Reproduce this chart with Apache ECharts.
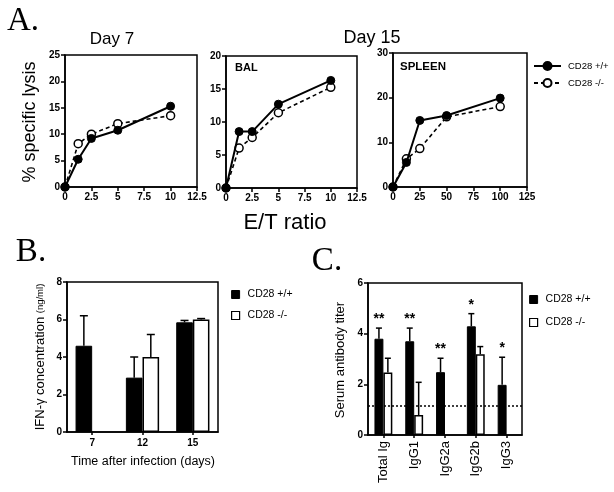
<!DOCTYPE html>
<html><head><meta charset="utf-8">
<script src="https://cdn.jsdelivr.net/npm/echarts@6/dist/echarts.min.js"></script>
<style>html,body{margin:0;padding:0;background:#fff}#c{width:614px;height:492px}</style>
</head><body><div id="c"></div>
<script>
// ---- Data ----
const etX = [0, 1.25, 2.5, 5, 10];
const day7Wt = [0, 5.25, 9.2, 10.75, 15.3];
const day7Ko = [0, 8.2, 10.0, 12.0, 13.5];
const balWt = [0, 8.55, 8.55, 12.7, 16.3];
const balKo = [0, 6.05, 7.65, 11.4, 15.25];
const spleenX = [0, 12.5, 25, 50, 100];
const spleenWt = [0, 5.5, 14.9, 16.0, 19.9];
const spleenKo = [0, 6.3, 8.6, 15.7, 18.0];

const bDays = ['7', '12', '15'];
const bWt = [4.6, 2.9, 5.85];
const bWtErr = [1.6, 1.1, 0.1];
const bKo = ['-', 4.0, 6.0];
const bKoErr = [0, 1.2, 0.05];

const cIso = ['Total Ig', 'IgG1', 'IgG2a', 'IgG2b', 'IgG3'];
const cWt = [3.8, 3.7, 2.48, 4.29, 1.98];
const cWtErr = [0.42, 0.52, 0.55, 0.5, 1.09];
const cKo = [2.47, 0.79, '-', 3.19, '-'];
const cKoErr = [0.56, 1.29, 0, 0.3, 0];
const cStars = ['**', '**', '**', '*', '*'];
const cDetection = 1.15;

const lineTicks = { day7: [0, 25, 5], bal: [0, 20, 5], spleen: [0, 30, 10] };

// ---- Helpers ----
const FF = '"Liberation Sans", Arial, Helvetica, sans-serif';
const SERIF = '"Liberation Serif", "Times New Roman", serif';
const BLK = '#000';

function axisBase(gi, extra) {
  return Object.assign({
    gridIndex: gi,
    axisLine: { show: true, onZero: false, lineStyle: { color: BLK, width: 1.5 } },
    axisTick: { show: true, length: 4, lineStyle: { color: BLK, width: 1.5 } },
    axisLabel: { color: BLK, fontSize: 10, fontWeight: 'bold', fontFamily: FF, margin: 5 },
    splitLine: { show: false }
  }, extra);
}
function pairs(xs, ys) { return xs.map((x, i) => [x, ys[i]]); }

function lineSeries(name, gi, xs, ys, ko) {
  return {
    type: 'line', name: name, xAxisIndex: gi, yAxisIndex: gi,
    data: pairs(xs, ys), clip: false, z: ko ? 3 : 4,
    symbol: 'circle', symbolSize: 8, showSymbol: true,
    lineStyle: { color: BLK, width: ko ? 1.6 : 2, type: ko ? [4, 3] : 'solid' },
    itemStyle: ko ? { color: '#fff', borderColor: BLK, borderWidth: 1.5 } : { color: BLK, borderColor: BLK, borderWidth: 1 },
    emphasis: { disabled: true }
  };
}

function errSeries(name, gi, vals, errs, side, gap, capW, stars) {
  const data = [];
  vals.forEach((v, i) => { if (v !== '-' && errs[i] > 0) data.push([i, v, v + errs[i]]); });
  return {
    type: 'custom', name: name, xAxisIndex: gi, yAxisIndex: gi, z: 5, clip: false,
    silent: true,
    data: data,
    encode: { x: 0, y: [1, 2] },
    renderItem: function (params, api) {
      const i = api.value(0), lo = api.value(1), hi = api.value(2);
      const band = api.size([1, 0])[0];
      const bw = band * (1 - gap) / 2;
      const off = side === 0 ? -bw / 2 : bw / 2;
      const p0 = api.coord([i, lo]), p1 = api.coord([i, hi]);
      const x = p0[0] + off;
      const st = { stroke: BLK, lineWidth: 1.5 };
      const children = [
        { type: 'line', shape: { x1: x, y1: p0[1], x2: x, y2: p1[1] }, style: st },
        { type: 'line', shape: { x1: x - capW / 2, y1: p1[1], x2: x + capW / 2, y2: p1[1] }, style: st }
      ];
      if (stars) {
        children.push({ type: 'text', x: x, y: p1[1] - 2,
          style: { text: stars[i], fill: BLK, fontSize: 14, fontWeight: 'bold', fontFamily: FF, align: 'center', verticalAlign: 'bottom' } });
      }
      return { type: 'group', children: children };
    }
  };
}

const chart = echarts.init(document.getElementById('c'), null, { renderer: 'canvas' });
const frame = { show: true, borderColor: BLK, borderWidth: 1.5, backgroundColor: 'transparent' };
const bGap = 0.34, cGap = 0.42;

const option = {
  backgroundColor: '#fff',
  animation: false,
  textStyle: { fontFamily: FF },
  grid: [
    Object.assign({ left: 65, top: 55, width: 132, height: 132 }, frame),
    Object.assign({ left: 226, top: 56, width: 131, height: 132 }, frame),
    Object.assign({ left: 393, top: 53, width: 134, height: 134 }, frame),
    Object.assign({ left: 67, top: 282, width: 151, height: 150 }, frame),
    Object.assign({ left: 368, top: 283, width: 154, height: 152 }, frame)
  ],
  xAxis: [
    axisBase(0, { type: 'value', min: 0, max: 12.5, interval: 2.5 }),
    axisBase(1, { type: 'value', min: 0, max: 12.5, interval: 2.5 }),
    axisBase(2, { type: 'value', min: 0, max: 125, interval: 25 }),
    axisBase(3, { type: 'category', data: bDays, axisTick: { show: true, alignWithLabel: true, length: 3, lineStyle: { color: BLK, width: 1.5 } }, axisLabel: { color: BLK, fontSize: 10, fontWeight: 'bold', fontFamily: FF, margin: 6 } }),
    axisBase(4, { type: 'category', data: cIso, axisTick: { show: true, alignWithLabel: true, length: 3, lineStyle: { color: BLK, width: 1.5 } }, axisLabel: { color: BLK, fontSize: 13, fontFamily: FF, rotate: 90, margin: 6 } })
  ],
  yAxis: [
    axisBase(0, { type: 'value', min: lineTicks.day7[0], max: lineTicks.day7[1], interval: lineTicks.day7[2] }),
    axisBase(1, { type: 'value', min: lineTicks.bal[0], max: lineTicks.bal[1], interval: lineTicks.bal[2] }),
    axisBase(2, { type: 'value', min: lineTicks.spleen[0], max: lineTicks.spleen[1], interval: lineTicks.spleen[2] }),
    axisBase(3, { type: 'value', min: 0, max: 8, interval: 2 }),
    axisBase(4, { type: 'value', min: 0, max: 6, interval: 2 })
  ],
  legend: [
    { orient: 'vertical', left: 528, top: 56, itemWidth: 27, itemHeight: 10, itemGap: 7,
      textStyle: { fontSize: 9.5, color: BLK, fontFamily: FF, padding: [0, 0, 0, 2] },
      data: ['CD28 +/+', 'CD28 -/-'], selectedMode: false },
    { orient: 'vertical', left: 226, top: 284, itemWidth: 8, itemHeight: 8, itemGap: 10,
      textStyle: { fontSize: 10.5, color: BLK, fontFamily: FF, padding: [0, 0, 0, 3] }, selectedMode: false,
      data: [{ name: 'CD28 +/+', icon: 'rect', itemStyle: { color: BLK, borderColor: BLK, borderWidth: 1 }, lineStyle: { width: 0 } },
             { name: 'CD28 -/-', icon: 'rect', itemStyle: { color: '#fff', borderColor: BLK, borderWidth: 1.2 }, lineStyle: { width: 0 } }] },
    { orient: 'vertical', left: 524, top: 289, itemWidth: 8, itemHeight: 8, itemGap: 12,
      textStyle: { fontSize: 10.5, color: BLK, fontFamily: FF, padding: [0, 0, 0, 3] }, selectedMode: false,
      data: [{ name: 'CD28 +/+', icon: 'rect', itemStyle: { color: BLK, borderColor: BLK, borderWidth: 1 }, lineStyle: { width: 0 } },
             { name: 'CD28 -/-', icon: 'rect', itemStyle: { color: '#fff', borderColor: BLK, borderWidth: 1.2 }, lineStyle: { width: 0 } }] }
  ],
  series: [
    lineSeries('CD28 +/+', 0, etX, day7Wt, false),
    lineSeries('CD28 -/-', 0, etX, day7Ko, true),
    lineSeries('CD28 +/+', 1, etX, balWt, false),
    lineSeries('CD28 -/-', 1, etX, balKo, true),
    lineSeries('CD28 +/+', 2, spleenX, spleenWt, false),
    lineSeries('CD28 -/-', 2, spleenX, spleenKo, true),
    { type: 'bar', name: 'CD28 +/+', xAxisIndex: 3, yAxisIndex: 3, data: bWt, barGap: '0%', barCategoryGap: (bGap * 100) + '%',
      itemStyle: { color: BLK, borderColor: BLK, borderWidth: 1 }, emphasis: { disabled: true } },
    { type: 'bar', name: 'CD28 -/-', xAxisIndex: 3, yAxisIndex: 3, data: bKo, barGap: '0%', barCategoryGap: (bGap * 100) + '%',
      itemStyle: { color: '#fff', borderColor: BLK, borderWidth: 1.5 }, emphasis: { disabled: true } },
    errSeries('errB1', 3, bWt, bWtErr, 0, bGap, 8, null),
    errSeries('errB2', 3, bKo, bKoErr, 1, bGap, 8, null),
    { type: 'bar', name: 'CD28 +/+', xAxisIndex: 4, yAxisIndex: 4, data: cWt, barGap: '0%', barCategoryGap: (cGap * 100) + '%',
      itemStyle: { color: BLK, borderColor: BLK, borderWidth: 1 }, emphasis: { disabled: true },
      markLine: { silent: true, symbol: 'none', label: { show: false },
        lineStyle: { color: BLK, type: [2, 2], width: 1.5 }, data: [{ yAxis: cDetection }] } },
    { type: 'bar', name: 'CD28 -/-', xAxisIndex: 4, yAxisIndex: 4, data: cKo, barGap: '0%', barCategoryGap: (cGap * 100) + '%',
      itemStyle: { color: '#fff', borderColor: BLK, borderWidth: 1.5 }, emphasis: { disabled: true } },
    errSeries('errC1', 4, cWt, cWtErr, 0, cGap, 6, cStars),
    errSeries('errC2', 4, cKo, cKoErr, 1, cGap, 6, null)
  ],
  graphic: [
    { type: 'text', x: 23, y: 21, style: { text: 'A.', font: '33px ' + SERIF, fill: BLK, align: 'center', verticalAlign: 'middle' } },
    { type: 'text', x: 31, y: 252, style: { text: 'B.', font: '33px ' + SERIF, fill: BLK, align: 'center', verticalAlign: 'middle' } },
    { type: 'text', x: 327, y: 261, style: { text: 'C.', font: '33px ' + SERIF, fill: BLK, align: 'center', verticalAlign: 'middle' } },
    { type: 'text', x: 112, y: 39, style: { text: 'Day 7', fontSize: 17, fontFamily: FF, fill: BLK, align: 'center', verticalAlign: 'middle' } },
    { type: 'text', x: 372, y: 38, style: { text: 'Day 15', fontSize: 18, fontFamily: FF, fill: BLK, align: 'center', verticalAlign: 'middle' } },
    { type: 'text', x: 285, y: 223, style: { text: 'E/T ratio', fontSize: 22, fontFamily: FF, fill: BLK, align: 'center', verticalAlign: 'middle' } },
    { type: 'text', x: 235, y: 68, style: { text: 'BAL', fontSize: 11, fontWeight: 'bold', fontFamily: FF, fill: BLK, align: 'left', verticalAlign: 'middle' } },
    { type: 'text', x: 400, y: 67, style: { text: 'SPLEEN', fontSize: 11.5, fontWeight: 'bold', fontFamily: FF, fill: BLK, align: 'left', verticalAlign: 'middle' } },
    { type: 'text', x: 30, y: 122, rotation: Math.PI / 2, style: { text: '% specific lysis', fontSize: 18, fontFamily: FF, fill: BLK, align: 'center', verticalAlign: 'middle' } },
    { type: 'text', x: 40, y: 357, rotation: Math.PI / 2, style: { text: '{a|IFN-γ concentration }{b|(ng/ml)}', fill: BLK, align: 'center', verticalAlign: 'middle',
        rich: { a: { fontSize: 13, fontFamily: FF, fill: BLK }, b: { fontSize: 9.5, fontFamily: FF, fill: BLK } } } },
    { type: 'text', x: 143, y: 462, style: { text: 'Time after infection (days)', fontSize: 12.5, fontFamily: FF, fill: BLK, align: 'center', verticalAlign: 'middle' } },
    { type: 'text', x: 340, y: 360, rotation: Math.PI / 2, style: { text: 'Serum antibody titer', fontSize: 13, fontFamily: FF, fill: BLK, align: 'center', verticalAlign: 'middle' } }
  ]
};
chart.setOption(option);
</script>
</body></html>
